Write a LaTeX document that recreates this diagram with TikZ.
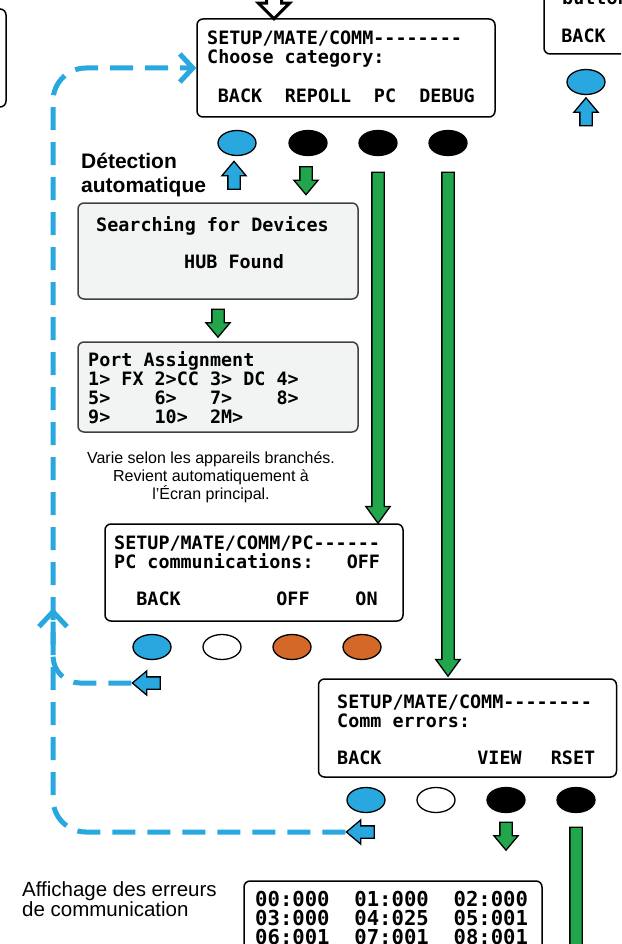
\documentclass[tikz,border=0pt]{standalone}
\usepackage{fontspec}
\setmainfont{Liberation Sans}
\setmonofont{DejaVu Sans Mono}
\usetikzlibrary{shapes.geometric,shapes.arrows,arrows.meta}

\definecolor{keyblue}{RGB}{41,168,224}
\definecolor{keygreen}{RGB}{34,166,76}
\definecolor{keyorange}{RGB}{211,104,40}
\definecolor{lcdgrey}{RGB}{242,243,243}

\tikzset{
  screen/.style={rectangle, draw=black, line width=1.5, rounded corners=6,
                 minimum width=298, minimum height=98, inner sep=0},
  greyscreen/.style={screen, draw=black!75, fill=lcdgrey, minimum width=280},
  lcd/.style={font=\ttfamily\bfseries\fontsize{18.4}{19}\selectfont, inner sep=0},
  biglcd/.style={font=\ttfamily\bfseries\fontsize{20.6}{19}\selectfont, inner sep=0},
  key/.style={ellipse, draw=black, line width=1.3, minimum width=38,
              minimum height=25, inner sep=0},
  keyarrow/.style={single arrow, draw=black, line width=1.3, minimum height=28,
                   minimum width=23, single arrow head extend=6,
                   single arrow tip angle=80, inner sep=5.5},
  longarrow/.style={single arrow, draw=black, line width=1.3, fill=keygreen,
                    minimum width=23, single arrow head extend=6,
                    single arrow tip angle=72, inner sep=5.5},
  pointup/.style={shape border rotate=90},
  pointdown/.style={shape border rotate=270},
  pointleft/.style={shape border rotate=180},
  backline/.style={keyblue, line width=5, dash pattern=on 23pt off 12pt},
  note/.style={font=\fontsize{16}{18}\selectfont, align=center, inner sep=0},
  bold note/.style={font=\bfseries\fontsize{21}{24}\selectfont, align=left, inner sep=0}
}

\begin{document}
\begin{tikzpicture}[x=1pt,y=-1pt]
  \useasboundingbox (0,0) rectangle (621,944);
  \clip (0,0) rectangle (621,944);

  % screens
  \node[screen] (leftscr) at (-143,58) {};
  \node[screen] (main) at (346,68) {};
  \node[screen] (rightscr) at (693,5) {};
  \node[greyscreen, minimum height=96] (search) at (218,251) {};
  \node[greyscreen, minimum height=90] (ports) at (218,387) {};
  \node[screen, minimum height=97] (pcscr) at (254,572.5) {};
  \node[screen] (commscr) at (467.5,728) {};
  \node[screen, minimum height=120] (errscr) at (393,941) {};

  % screen texts
  \node[lcd, anchor=base west] (rightl2) at (562,5) {button};
  \node[lcd, anchor=base] (rightback) at (583.5,42.5) {BACK};

  \node[lcd, anchor=base west] (mainl1) at (207,44.5) {SETUP/MATE/COMM--------};
  \node[lcd, anchor=base west] (mainl2) at (207,63.5) {Choose category:};
  \node[lcd, anchor=base] (mainback) at (240,102.5) {BACK};
  \node[lcd, anchor=base] (mainrepoll) at (318,102.5) {REPOLL};
  \node[lcd, anchor=base] (mainpc) at (385,102.5) {PC};
  \node[lcd, anchor=base] (maindebug) at (447,102.5) {DEBUG};

  \node[lcd, anchor=base west] (searchl1) at (96,231.5) {Searching for Devices};
  \node[lcd, anchor=base west] (searchl2) at (184,268.5) {HUB Found};

  \node[lcd, anchor=base west] (portsl1) at (88,366.5) {Port Assignment};
  \node[lcd, anchor=base west] (portsl2) at (88,385.5) {1> FX 2>CC 3> DC 4>};
  \node[lcd, anchor=base west] (portsl3) at (88,404.5) {5>~~~~6>~~~7>~~~~8>};
  \node[lcd, anchor=base west] (portsl4) at (88,423.5) {9>~~~~10>~~2M>};

  \node[lcd, anchor=base west] (pcl1) at (114,549.5) {SETUP/MATE/COMM/PC------};
  \node[lcd, anchor=base west] (pcl2) at (114,568.5) {PC communications:~~~OFF};
  \node[lcd, anchor=base] (pcback) at (158.5,605.5) {BACK};
  \node[lcd, anchor=base] (pcoff) at (293,605.5) {OFF};
  \node[lcd, anchor=base] (pcon) at (366.5,605.5) {ON};

  \node[lcd, anchor=base west] (comml1) at (337,708.5) {SETUP/MATE/COMM--------};
  \node[lcd, anchor=base west] (comml2) at (337,727.5) {Comm errors:};
  \node[lcd, anchor=base west] (commback) at (337,764.5) {BACK};
  \node[lcd, anchor=base] (commview) at (499.5,764.5) {VIEW};
  \node[lcd, anchor=base] (commrset) at (573,764.5) {RSET};

  \node[biglcd, anchor=base west] (errl1) at (255,906) {00:000~~01:000~~02:000};
  \node[biglcd, anchor=base west] (errl2) at (255,925) {03:000~~04:025~~05:001};
  \node[biglcd, anchor=base west] (errl3) at (255,944) {06:001~~07:001~~08:001};

  % notes
  \node[bold note, anchor=base west] (autodetect) at (81,193) {Détection\\automatique};
  \node[note] (portsnote) at (211,477) {Varie selon les appareils branchés.\\Revient automatiquement à\\l'Écran principal.};
  \node[note, align=left, anchor=base west, font=\fontsize{20.5}{20}\selectfont]
       (errnote) at (22,916.5) {Affichage des erreurs\\de communication};

  % keys
  \node[key, fill=keyblue] (rightk1) at (586,82) {};
  \node[key, fill=keyblue] (maink1) at (237,143) {};
  \node[key, fill=black] (maink2) at (308,143) {};
  \node[key, fill=black] (maink3) at (378,143) {};
  \node[key, fill=black] (maink4) at (448,143) {};
  \node[key, fill=keyblue] (pck1) at (152,647) {};
  \node[key, fill=white] (pck2) at (222,647) {};
  \node[key, fill=keyorange] (pck3) at (292,647) {};
  \node[key, fill=keyorange] (pck4) at (362,647) {};
  \node[key, fill=keyblue] (commk1) at (366,800) {};
  \node[key, fill=white] (commk2) at (436,800) {};
  \node[key, fill=black] (commk3) at (506,800) {};
  \node[key, fill=black] (commk4) at (576,800) {};

  % key arrows
  \node[single arrow, draw=black, line width=3, fill=white, pointdown,
        minimum height=40, minimum width=30, single arrow head extend=8,
        inner sep=6] (entry) at (274,-5) {};
  \node[keyarrow, pointup, fill=keyblue] (rightup) at (586,115.5) {};
  \node[keyarrow, pointup, fill=keyblue] (mainup) at (234,179) {};
  \node[keyarrow, pointdown, fill=keygreen] (repolldown) at (306,177) {};
  \node[keyarrow, pointdown, fill=keygreen] (searchdown) at (218,319.5) {};
  \node[keyarrow, pointleft, fill=keyblue] (pcleft) at (150,683) {};
  \node[keyarrow, pointleft, fill=keyblue] (commleft) at (364,832) {};
  \node[keyarrow, pointdown, fill=keygreen] (viewdown) at (506,832.5) {};

  \node[longarrow, pointdown, minimum height=351] (pcdown) at (378,343.5) {};
  \node[longarrow, pointdown, minimum height=504] (debugdown) at (448,420) {};
  \node[longarrow, pointdown, minimum height=177] (rsetdown) at (576,911.5) {};

  % back paths
  \coordinate (lane) at (53,0);
  \coordinate (pcjoin) at (53,608);
  \draw[backline, rounded corners=33, -{Straight Barb[length=13pt,width=28pt]}]
       (commleft.tip) -| (lane |- main.west) -- (main.west);
  \draw[backline, rounded corners=27, -{Straight Barb[length=15pt,width=28pt]}]
       (pcleft.tip) -| (pcjoin);
\end{tikzpicture}
\end{document}
